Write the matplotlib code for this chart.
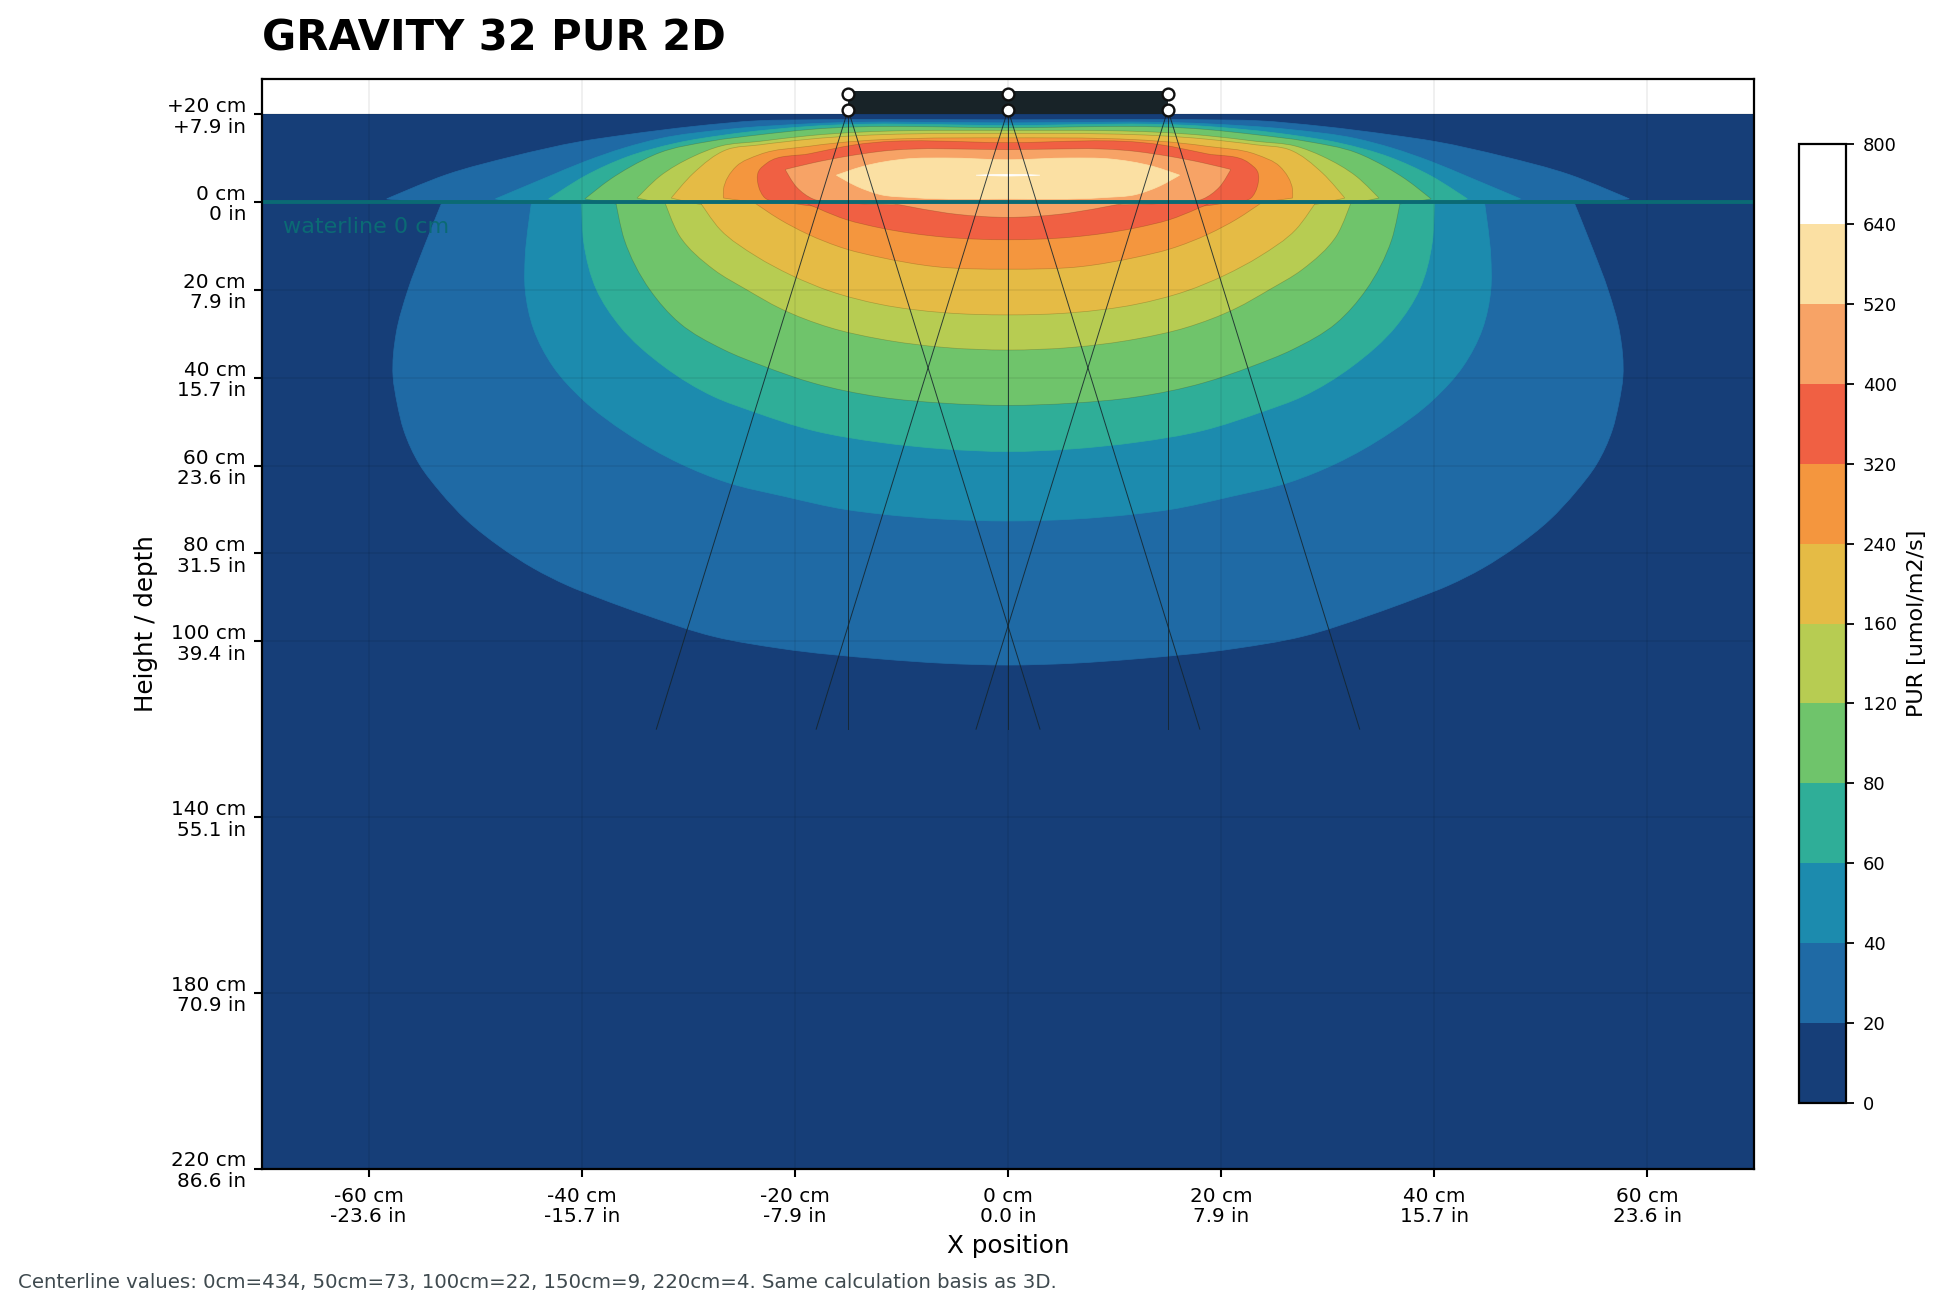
import numpy as np
import matplotlib
matplotlib.use("Agg")
import matplotlib.pyplot as plt
from matplotlib.colors import ListedColormap, BoundaryNorm
from matplotlib.cm import ScalarMappable
from matplotlib.path import Path
from matplotlib.patches import PathPatch

# ---------- data ----------
LEVELS = [0, 20, 40, 60, 80, 120, 160, 240, 320, 400, 520, 640, 800]
BAND_COLORS = ["#163e78", "#1f6aa5", "#1c8bae", "#2fae98", "#6fc46b", "#b7cc52",
               "#e5bb45", "#f4963e", "#f06043", "#f7a366", "#fbe0a3", "#ffffff"]

# iso-PUR contours: half-width from the centre (cm) and depth (cm, negative = above water)
ABOVE_20_HW = [0, 18.6, 23.3, 29.5, 35.8, 40.2, 46.4, 52.7, 58.3, 55, 0]
ABOVE_20_D = [-18.7, -18.7, -18.5, -17.2, -15.3, -13.7, -10.4, -6.2, -0.7, 0, 0]
ABOVE_40_HW = [0, 18.6, 26.4, 32.7, 36, 39.7, 43.3, 48.1, 46, 0]
ABOVE_40_D = [-18, -17.8, -16.5, -14.4, -12.3, -9.2, -5.6, -0.7, 0, 0]
ABOVE_60_HW = [0, 18.6, 26.4, 31.1, 35.8, 39.7, 43.1, 41, 0]
ABOVE_60_D = [-17.4, -17.2, -15.3, -13.4, -10.2, -5.9, -0.7, 0, 0]
ABOVE_80_HW = [0, 18.6, 23.3, 28, 32.7, 35.5, 37.3, 39.7, 38, 0]
ABOVE_80_D = [-16.9, -16.5, -15.3, -13.8, -11.2, -7.9, -5.2, -0.7, 0, 0]
ABOVE_120_HW = [0, 18.6, 23.3, 27, 29.5, 32.7, 34.8, 33, 0]
ABOVE_120_D = [-16.3, -15.1, -13.8, -12.7, -10.4, -5.8, -0.9, 0, 0]
ABOVE_160_HW = [0, 18.6, 23.3, 26.4, 29.5, 31.6, 30, 0]
ABOVE_160_D = [-15.6, -14.3, -13, -11.9, -6.6, -0.9, 0, 0]
ABOVE_240_HW = [0, 18.6, 23.3, 25.5, 26.7, 26.7, 24, 0]
ABOVE_240_D = [-14.6, -12.7, -10.8, -8.1, -2.8, -0.9, 0, 0]
ABOVE_320_HW = [0, 14.4, 18.6, 22.6, 23.4, 23.4, 22.8, 21, 0]
ABOVE_320_D = [-13.5, -13, -11, -8.9, -7, -3.5, -0.9, 0, 0]
ABOVE_400_HW = [0, 12, 15.1, 18.3, 20.9, 19.8, 18.3, 16, 0]
ABOVE_400_D = [-11.9, -11.5, -10.4, -8.9, -7.4, -3.3, -0.7, 0, 0]
ABOVE_520_HW = [0, 5.8, 9.5, 13.6, 16.1, 14.2, 12, 8.9, 0]
ABOVE_520_D = [-9.6, -10, -9.8, -8.1, -6.1, -3.6, -1.7, -1, -0.7]
ABOVE_640_HW = [0, 3, 0]
ABOVE_640_D = [-6.3, -6.1, -5.9]

BELOW_20_HW = [0, 53.1, 54.9, 56.3, 57.4, 57.7, 57.3, 56.7, 55.2, 53.3, 50.8, 47.7, 44.5, 41.4, 38.3, 34, 27.6, 21.4, 12, 6, 0]
BELOW_20_D = [0, 0, 10.9, 20, 29.8, 39.7, 46, 51.9, 59.8, 65.9, 72.4, 78.4, 83.4, 87.2, 90.2, 94, 98.9, 101.6, 104, 105, 105.4]
BELOW_40_HW = [0, 44.7, 45.3, 45.3, 44.5, 42.7, 39.9, 35.8, 30.8, 26.4, 21, 15.2, 12, 6, 0]
BELOW_40_D = [0, 0, 12.4, 20, 29, 37.4, 45, 52.6, 59.5, 63.8, 67, 70, 71, 72.2, 72.6]
BELOW_60_HW = [0, 40, 39.8, 38.6, 36.4, 32.3, 27.6, 23.9, 18.3, 12, 6, 0]
BELOW_60_D = [0, 0, 9.3, 20, 28.3, 37.4, 44.3, 47.7, 52, 54.7, 56.2, 56.8]
BELOW_80_HW = [0, 36.8, 36, 33.6, 30.8, 26.7, 22.9, 18.3, 12, 6, 0]
BELOW_80_D = [0, 0, 8.6, 20, 27.6, 33.6, 37.4, 41.2, 44.4, 45.8, 46.3]
BELOW_120_HW = [0, 32.2, 30.8, 27.6, 24.5, 21.4, 16.7, 12, 6, 0]
BELOW_120_D = [0, 0, 7.8, 15.4, 20, 24.2, 28.6, 31.2, 33.1, 33.7]
BELOW_160_HW = [0, 28.9, 27, 23.6, 20.4, 16.7, 12, 6, 0]
BELOW_160_D = [0, 0, 6.3, 12.4, 16.6, 20.3, 23.3, 25.2, 25.7]
BELOW_240_HW = [0, 23.9, 21.4, 18.9, 15.2, 12, 6.9, 0]
BELOW_240_D = [0, 0, 4, 7.2, 10.7, 12.6, 14.7, 15.3]
BELOW_320_HW = [0, 19.2, 15.2, 12, 6, 0]
BELOW_320_D = [0, 0, 4, 5.9, 8, 8.6]
BELOW_400_HW = [0, 11.5, 4.8, 0]
BELOW_400_D = [0, 0, 2.8, 3.5]

CONTOURS = [
    (1, ABOVE_20_HW, ABOVE_20_D), (1, BELOW_20_HW, BELOW_20_D),
    (2, ABOVE_40_HW, ABOVE_40_D), (2, BELOW_40_HW, BELOW_40_D),
    (3, ABOVE_60_HW, ABOVE_60_D), (3, BELOW_60_HW, BELOW_60_D),
    (4, ABOVE_80_HW, ABOVE_80_D), (4, BELOW_80_HW, BELOW_80_D),
    (5, ABOVE_120_HW, ABOVE_120_D), (5, BELOW_120_HW, BELOW_120_D),
    (6, ABOVE_160_HW, ABOVE_160_D), (6, BELOW_160_HW, BELOW_160_D),
    (7, ABOVE_240_HW, ABOVE_240_D), (7, BELOW_240_HW, BELOW_240_D),
    (8, ABOVE_320_HW, ABOVE_320_D), (8, BELOW_320_HW, BELOW_320_D),
    (9, ABOVE_400_HW, ABOVE_400_D), (9, BELOW_400_HW, BELOW_400_D),
    (10, ABOVE_520_HW, ABOVE_520_D),
    (11, ABOVE_640_HW, ABOVE_640_D),
]

X_TICKS = [-60, -40, -20, 0, 20, 40, 60]
X_LABELS = ["-60 cm\n-23.6 in", "-40 cm\n-15.7 in", "-20 cm\n-7.9 in", "0 cm\n0.0 in",
            "20 cm\n7.9 in", "40 cm\n15.7 in", "60 cm\n23.6 in"]
Y_TICKS = [-20, 0, 20, 40, 60, 80, 100, 140, 180, 220]
Y_LABELS = ["+20 cm\n+7.9 in", "0 cm\n0 in", "20 cm\n7.9 in", "40 cm\n15.7 in", "60 cm\n23.6 in",
            "80 cm\n31.5 in", "100 cm\n39.4 in", "140 cm\n55.1 in", "180 cm\n70.9 in", "220 cm\n86.6 in"]

LED_X = [-15, 0, 15]
RAY_END_OFFSET = [-18, 0, 18]
RAY_END_DEPTH = 120
FIXTURE_TOP = -25.2
FIXTURE_BOTTOM = -20
NODE_TOP = -24.6
NODE_BOTTOM = -21
FIELD_X = (-70, 70)
FIELD_D = (-20, 220)

TITLE = "GRAVITY 32 PUR 2D"
FOOTNOTE = "Centerline values: 0cm=434, 50cm=73, 100cm=22, 150cm=9, 220cm=4. Same calculation basis as 3D."

# ---------- figure ----------
W, H = 1946, 1309
fig = plt.figure(figsize=(W / 100, H / 100), dpi=100)
L, R, T, B = 262, 1754, 79.4, 1168.5
ax = fig.add_axes([L / W, 1 - B / H, (R - L) / W, (B - T) / H])
SX, SY = (R - L) / 140, (B - T) / 247.9


def contour_path(hw, d):
    """Closed smooth Bezier path through the mirrored contour readings; tips stay sharp."""
    hw = np.array(hw, float)
    d = np.array(d, float)
    xs = np.r_[hw, -hw[-2:0:-1]]
    ys = np.r_[d, d[-2:0:-1]]
    Q = np.c_[xs * SX, ys * SY]
    n = len(Q)
    prev, nxt = np.roll(Q, 1, axis=0), np.roll(Q, -1, axis=0)
    v1, v2 = Q - prev, nxt - Q
    l1, l2 = np.hypot(*v1.T), np.hypot(*v2.T)
    cosang = (v1 * v2).sum(axis=1) / np.maximum(l1 * l2, 1e-9)
    corner = cosang < np.cos(np.radians(55))
    tang = v1 * (l2 / np.maximum(l1, 1e-9))[:, None] + v2 * (l1 / np.maximum(l2, 1e-9))[:, None]
    tang = tang / np.maximum(np.hypot(*tang.T), 1e-9)[:, None]
    tang[corner] = 0
    verts, codes = [Q[0]], [Path.MOVETO]
    for i in range(n):
        j = (i + 1) % n
        seg = np.hypot(*(Q[j] - Q[i]))
        verts += [Q[i] + tang[i] * seg / 3, Q[j] - tang[j] * seg / 3, Q[j]]
        codes += [Path.CURVE4] * 3
    verts = np.array(verts) / [SX, SY]
    return Path(verts, codes)


ax.fill_between(FIELD_X, FIELD_D[0], FIELD_D[1], color=BAND_COLORS[0], lw=0, zorder=1)
for band, hw, d in CONTOURS:
    edge = (0.25, 0.15, 0, 0.25) if 4 <= band <= 9 else BAND_COLORS[band]
    ax.add_patch(PathPatch(contour_path(hw, d), facecolor=BAND_COLORS[band], edgecolor=edge,
                           lw=0.5, zorder=1 + band * 0.01))

ax.set_xlim(-70, 70)
ax.set_ylim(220, -27.9)
ax.set_xticks(X_TICKS, X_LABELS, fontsize=14.4, linespacing=1.1)
ax.set_yticks(Y_TICKS, Y_LABELS, fontsize=14.4, linespacing=1.1)
ax.tick_params(length=6, width=1.5)
ax.tick_params(axis="x", pad=7)
ax.tick_params(axis="y", pad=5.5)
ax.grid(True, color="#000000", alpha=0.06, lw=1.4, zorder=2)
ax.set_axisbelow(False)
for s in ax.spines.values():
    s.set_linewidth(1.6)
    s.set_zorder(6)

# waterline
ax.axhline(0, color="#0b6a74", lw=2.8, zorder=3)
ax.text(-68, 5.6, "waterline 0 cm", color="#0b6a74", fontsize=16, va="center", ha="left", zorder=3)

# light rays and fixture
for lx in LED_X:
    for off in RAY_END_OFFSET:
        ax.plot([lx, lx + off], [NODE_BOTTOM, RAY_END_DEPTH], color="#15242b", lw=0.7, alpha=0.85, zorder=3.5)
ax.fill_between([LED_X[0], LED_X[-1]], FIXTURE_TOP, FIXTURE_BOTTOM, color="#182328", lw=0, zorder=4)
for ny in (NODE_TOP, NODE_BOTTOM):
    ax.plot(LED_X, [ny] * len(LED_X), ls="none", marker="o", ms=8.5, mfc="white", mec="#101010", mew=1.7, zorder=5)

ax.set_title(TITLE, loc="left", fontsize=30, fontweight="bold", pad=21)
ax.set_xlabel("X position", fontsize=17.7, labelpad=6)
ax.set_ylabel("Height / depth", fontsize=17.7, labelpad=6)

# colour bar
cax = fig.add_axes([1799 / W, 1 - 1103 / H, 47 / W, (1103 - 144) / H])
cmap = ListedColormap(BAND_COLORS)
norm = BoundaryNorm(LEVELS, cmap.N)
cb = fig.colorbar(ScalarMappable(norm=norm, cmap=cmap), cax=cax, ticks=LEVELS, spacing="uniform")
cb.ax.tick_params(labelsize=13, length=6, width=1.3, pad=6)
cb.outline.set_linewidth(1.6)
cb.set_label("PUR [umol/m2/s]", fontsize=16, labelpad=7)

fig.text(18 / W, 1 - 1283 / H, FOOTNOTE, fontsize=14.2, color="#3f4a4f", va="center", ha="left")

fig.savefig("out.png", dpi=100)
